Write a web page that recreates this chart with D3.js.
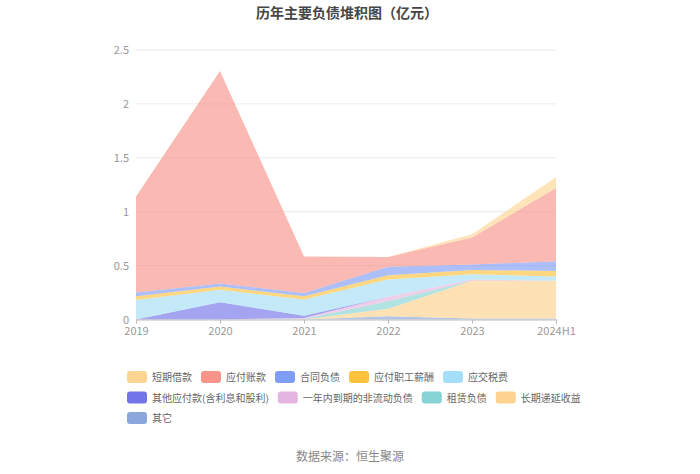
<!DOCTYPE html>
<html>
<head>
<meta charset="utf-8">
<script src="https://cdn.jsdelivr.net/npm/d3@7/dist/d3.min.js"></script>
<style>
	body { margin: 0; background: #fff; }
	svg text { font-family: "Noto Sans CJK SC", "Noto Sans", sans-serif; }
</style>
</head>
<body>
<div id="chart"></div>
<script>
var years = ["2019", "2020", "2021", "2022", "2023", "2024H1"];
var seriesNames = ["短期借款", "应付账款", "合同负债", "应付职工薪酬", "应交税费",
	"其他应付款(含利息和股利)", "一年内到期的非流动负债", "租赁负债", "长期递延收益", "其它"];
var seriesColors = ["#fdd592", "#f7958a", "#809df5", "#ffc23d", "#a5def8",
	"#7373ea", "#e4b5de", "#85d4d3", "#fdd38f", "#8aa6da"];

var shortLoan     = [0, 0, 0, 0, 0.03, 0.10];
var payables      = [0.89, 1.97, 0.34, 0.09, 0.25, 0.68];
var contractLiab  = [0.035, 0.03, 0.03, 0.08, 0.05, 0.09];
var staffPay      = [0.035, 0.03, 0.03, 0.04, 0.04, 0.05];
var taxPayable    = [0.18, 0.115, 0.15, 0.16, 0.05, 0.04];
var otherPayables = [0, 0.16, 0.02, 0, 0, 0];
var currentNonCur = [0, 0, 0.01, 0.04, 0.01, 0];
var leaseLiab     = [0, 0, 0.005, 0.07, 0, 0];
var deferredInc   = [0, 0, 0, 0.07, 0.35, 0.35];
var others        = [0, 0, 0, 0.03, 0.01, 0.01];

var yTicks = [0, 0.5, 1, 1.5, 2, 2.5];

var allSeries = [shortLoan, payables, contractLiab, staffPay, taxPayable,
	otherPayables, currentNonCur, leaseLiab, deferredInc, others];

var width = 700, height = 474;
var margin = {left: 136, right: 144, top: 50, bottom: 154.5};

var svg = d3.select("#chart").append("svg")
	.attr("width", width)
	.attr("height", height);

// title
svg.append("text")
	.attr("x", 347)
	.attr("y", 18)
	.attr("text-anchor", "middle")
	.attr("font-size", 14)
	.attr("font-weight", "bold")
	.attr("fill", "#464646")
	.text("历年主要负债堆积图（亿元）");

var x = d3.scalePoint()
	.domain(years)
	.range([margin.left, width - margin.right]);
var y = d3.scaleLinear()
	.domain([0, 2.5])
	.range([height - margin.bottom, margin.top]);

// grid
svg.append("g").attr("class", "grid")
	.selectAll("line")
	.data(yTicks.slice(1))
	.enter().append("line")
	.attr("x1", margin.left)
	.attr("x2", width - margin.right)
	.attr("y1", function(d) { return y(d); })
	.attr("y2", function(d) { return y(d); })
	.attr("stroke", "#ebebeb")
	.attr("stroke-width", 1);

// stacked rows, bottom series is the last in legend order
var rows = years.map(function(yr, i) {
	var r = {year: yr};
	seriesNames.forEach(function(n, k) { r[n] = allSeries[k][i]; });
	return r;
});
var stack = d3.stack()
	.keys(seriesNames.slice().reverse());
var layers = stack(rows);

var area = d3.area()
	.x(function(d) { return x(d.data.year); })
	.y0(function(d) { return y(d[0]); })
	.y1(function(d) { return y(d[1]); });

svg.append("g").attr("class", "areas")
	.selectAll("path")
	.data(layers)
	.enter().append("path")
	.attr("d", area)
	.attr("fill", function(d) { return seriesColors[seriesNames.indexOf(d.key)]; })
	.attr("fill-opacity", 0.65);

// y axis labels
svg.append("g").attr("class", "y-labels")
	.selectAll("text")
	.data(yTicks)
	.enter().append("text")
	.attr("x", 129)
	.attr("y", function(d) { return y(d) + 4; })
	.attr("text-anchor", "end")
	.attr("font-size", 11)
	.attr("fill", "#999")
	.text(function(d) { return d; });

// x axis
var xAxis = d3.axisBottom(x).tickSize(4).tickPadding(4);
var gx = svg.append("g")
	.attr("transform", "translate(0," + y(0) + ")")
	.call(xAxis);
gx.select(".domain").attr("stroke", "#bbb");
gx.selectAll(".tick line").attr("stroke", "#bbb");
gx.selectAll(".tick text")
	.attr("font-size", 11)
	.attr("fill", "#999")
	.attr("font-family", "\"Noto Sans CJK SC\", sans-serif");

// legend
var legend = svg.append("g").attr("class", "legend");
var legRows = [[0, 1, 2, 3, 4], [5, 6, 7, 8], [9]];
legRows.forEach(function(row, ri) {
	var lx = 127, ly = 377 + ri * 20.5;
	row.forEach(function(k) {
		legend.append("rect")
			.attr("x", lx)
			.attr("y", ly - 6)
			.attr("width", 20)
			.attr("height", 12)
			.attr("rx", 3)
			.attr("fill", seriesColors[k]);
		var t = legend.append("text")
			.attr("x", lx + 25)
			.attr("y", ly + 4)
			.attr("font-size", 10)
			.attr("fill", "#666")
			.text(seriesNames[k]);
		lx += 25 + t.node().getComputedTextLength() + 9;
	});
});

// source
svg.append("text")
	.attr("x", 350)
	.attr("y", 461)
	.attr("text-anchor", "middle")
	.attr("font-size", 12)
	.attr("fill", "#888")
	.text("数据来源：恒生聚源");
</script>
</body>
</html>
